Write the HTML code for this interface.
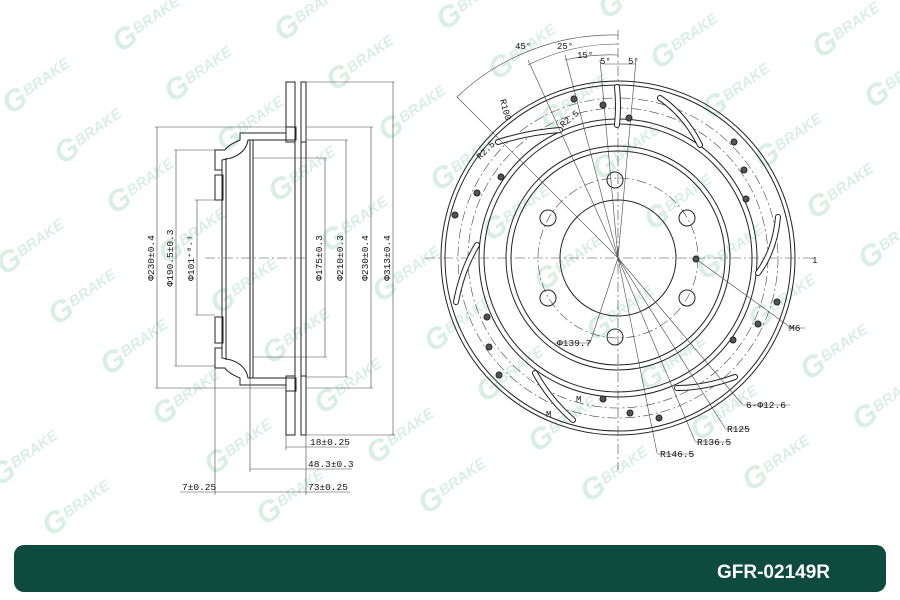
<!DOCTYPE html>
<html><head><meta charset="utf-8"><style>
html,body{margin:0;padding:0;background:#fff}
svg{display:block}
.wm text{font-family:"Liberation Sans",sans-serif;font-weight:bold;font-style:italic;fill:#d9efe6}
.l{stroke:#222;fill:none;stroke-width:1}
.t{stroke:#444;fill:none;stroke-width:.6}
.c{stroke:#444;fill:none;stroke-width:.6;stroke-dasharray:10 3 2 3}
.d{font-family:"Liberation Mono",monospace;font-size:9.5px;fill:#111}
</style></head><body>
<svg width="900" height="600" viewBox="0 0 900 600" xmlns="http://www.w3.org/2000/svg">
<defs>
<pattern id="h" width="5" height="5" patternUnits="userSpaceOnUse" patternTransform="rotate(45)"><line x1="0" y1="0" x2="0" y2="5" stroke="#333" stroke-width=".8"/></pattern>
</defs>
<g class="wm">
<g transform="translate(125,38) rotate(-35)"><text x="-12" y="10" font-size="30">G</text><text x="12" y="4" font-size="15">BRAKE</text></g>
<g transform="translate(177,88) rotate(-35)"><text x="-12" y="10" font-size="30">G</text><text x="12" y="4" font-size="15">BRAKE</text></g>
<g transform="translate(229,138) rotate(-35)"><text x="-12" y="10" font-size="30">G</text><text x="12" y="4" font-size="15">BRAKE</text></g>
<g transform="translate(281,188) rotate(-35)"><text x="-12" y="10" font-size="30">G</text><text x="12" y="4" font-size="15">BRAKE</text></g>
<g transform="translate(333,238) rotate(-35)"><text x="-12" y="10" font-size="30">G</text><text x="12" y="4" font-size="15">BRAKE</text></g>
<g transform="translate(385,288) rotate(-35)"><text x="-12" y="10" font-size="30">G</text><text x="12" y="4" font-size="15">BRAKE</text></g>
<g transform="translate(437,338) rotate(-35)"><text x="-12" y="10" font-size="30">G</text><text x="12" y="4" font-size="15">BRAKE</text></g>
<g transform="translate(489,388) rotate(-35)"><text x="-12" y="10" font-size="30">G</text><text x="12" y="4" font-size="15">BRAKE</text></g>
<g transform="translate(541,438) rotate(-35)"><text x="-12" y="10" font-size="30">G</text><text x="12" y="4" font-size="15">BRAKE</text></g>
<g transform="translate(593,488) rotate(-35)"><text x="-12" y="10" font-size="30">G</text><text x="12" y="4" font-size="15">BRAKE</text></g>
<g transform="translate(287,27) rotate(-35)"><text x="-12" y="10" font-size="30">G</text><text x="12" y="4" font-size="15">BRAKE</text></g>
<g transform="translate(339,77) rotate(-35)"><text x="-12" y="10" font-size="30">G</text><text x="12" y="4" font-size="15">BRAKE</text></g>
<g transform="translate(391,127) rotate(-35)"><text x="-12" y="10" font-size="30">G</text><text x="12" y="4" font-size="15">BRAKE</text></g>
<g transform="translate(443,177) rotate(-35)"><text x="-12" y="10" font-size="30">G</text><text x="12" y="4" font-size="15">BRAKE</text></g>
<g transform="translate(495,227) rotate(-35)"><text x="-12" y="10" font-size="30">G</text><text x="12" y="4" font-size="15">BRAKE</text></g>
<g transform="translate(547,277) rotate(-35)"><text x="-12" y="10" font-size="30">G</text><text x="12" y="4" font-size="15">BRAKE</text></g>
<g transform="translate(599,327) rotate(-35)"><text x="-12" y="10" font-size="30">G</text><text x="12" y="4" font-size="15">BRAKE</text></g>
<g transform="translate(651,377) rotate(-35)"><text x="-12" y="10" font-size="30">G</text><text x="12" y="4" font-size="15">BRAKE</text></g>
<g transform="translate(703,427) rotate(-35)"><text x="-12" y="10" font-size="30">G</text><text x="12" y="4" font-size="15">BRAKE</text></g>
<g transform="translate(755,477) rotate(-35)"><text x="-12" y="10" font-size="30">G</text><text x="12" y="4" font-size="15">BRAKE</text></g>
<g transform="translate(449,16) rotate(-35)"><text x="-12" y="10" font-size="30">G</text><text x="12" y="4" font-size="15">BRAKE</text></g>
<g transform="translate(501,66) rotate(-35)"><text x="-12" y="10" font-size="30">G</text><text x="12" y="4" font-size="15">BRAKE</text></g>
<g transform="translate(553,116) rotate(-35)"><text x="-12" y="10" font-size="30">G</text><text x="12" y="4" font-size="15">BRAKE</text></g>
<g transform="translate(605,166) rotate(-35)"><text x="-12" y="10" font-size="30">G</text><text x="12" y="4" font-size="15">BRAKE</text></g>
<g transform="translate(657,216) rotate(-35)"><text x="-12" y="10" font-size="30">G</text><text x="12" y="4" font-size="15">BRAKE</text></g>
<g transform="translate(709,266) rotate(-35)"><text x="-12" y="10" font-size="30">G</text><text x="12" y="4" font-size="15">BRAKE</text></g>
<g transform="translate(761,316) rotate(-35)"><text x="-12" y="10" font-size="30">G</text><text x="12" y="4" font-size="15">BRAKE</text></g>
<g transform="translate(813,366) rotate(-35)"><text x="-12" y="10" font-size="30">G</text><text x="12" y="4" font-size="15">BRAKE</text></g>
<g transform="translate(865,416) rotate(-35)"><text x="-12" y="10" font-size="30">G</text><text x="12" y="4" font-size="15">BRAKE</text></g>
<g transform="translate(611,5) rotate(-35)"><text x="-12" y="10" font-size="30">G</text><text x="12" y="4" font-size="15">BRAKE</text></g>
<g transform="translate(663,55) rotate(-35)"><text x="-12" y="10" font-size="30">G</text><text x="12" y="4" font-size="15">BRAKE</text></g>
<g transform="translate(715,105) rotate(-35)"><text x="-12" y="10" font-size="30">G</text><text x="12" y="4" font-size="15">BRAKE</text></g>
<g transform="translate(767,155) rotate(-35)"><text x="-12" y="10" font-size="30">G</text><text x="12" y="4" font-size="15">BRAKE</text></g>
<g transform="translate(819,205) rotate(-35)"><text x="-12" y="10" font-size="30">G</text><text x="12" y="4" font-size="15">BRAKE</text></g>
<g transform="translate(871,255) rotate(-35)"><text x="-12" y="10" font-size="30">G</text><text x="12" y="4" font-size="15">BRAKE</text></g>
<g transform="translate(825,44) rotate(-35)"><text x="-12" y="10" font-size="30">G</text><text x="12" y="4" font-size="15">BRAKE</text></g>
<g transform="translate(877,94) rotate(-35)"><text x="-12" y="10" font-size="30">G</text><text x="12" y="4" font-size="15">BRAKE</text></g>
<g transform="translate(15,100) rotate(-35)"><text x="-12" y="10" font-size="30">G</text><text x="12" y="4" font-size="15">BRAKE</text></g>
<g transform="translate(67,150) rotate(-35)"><text x="-12" y="10" font-size="30">G</text><text x="12" y="4" font-size="15">BRAKE</text></g>
<g transform="translate(119,200) rotate(-35)"><text x="-12" y="10" font-size="30">G</text><text x="12" y="4" font-size="15">BRAKE</text></g>
<g transform="translate(171,250) rotate(-35)"><text x="-12" y="10" font-size="30">G</text><text x="12" y="4" font-size="15">BRAKE</text></g>
<g transform="translate(223,300) rotate(-35)"><text x="-12" y="10" font-size="30">G</text><text x="12" y="4" font-size="15">BRAKE</text></g>
<g transform="translate(275,350) rotate(-35)"><text x="-12" y="10" font-size="30">G</text><text x="12" y="4" font-size="15">BRAKE</text></g>
<g transform="translate(327,400) rotate(-35)"><text x="-12" y="10" font-size="30">G</text><text x="12" y="4" font-size="15">BRAKE</text></g>
<g transform="translate(379,450) rotate(-35)"><text x="-12" y="10" font-size="30">G</text><text x="12" y="4" font-size="15">BRAKE</text></g>
<g transform="translate(431,500) rotate(-35)"><text x="-12" y="10" font-size="30">G</text><text x="12" y="4" font-size="15">BRAKE</text></g>
<g transform="translate(9,261) rotate(-35)"><text x="-12" y="10" font-size="30">G</text><text x="12" y="4" font-size="15">BRAKE</text></g>
<g transform="translate(61,311) rotate(-35)"><text x="-12" y="10" font-size="30">G</text><text x="12" y="4" font-size="15">BRAKE</text></g>
<g transform="translate(113,361) rotate(-35)"><text x="-12" y="10" font-size="30">G</text><text x="12" y="4" font-size="15">BRAKE</text></g>
<g transform="translate(165,411) rotate(-35)"><text x="-12" y="10" font-size="30">G</text><text x="12" y="4" font-size="15">BRAKE</text></g>
<g transform="translate(217,461) rotate(-35)"><text x="-12" y="10" font-size="30">G</text><text x="12" y="4" font-size="15">BRAKE</text></g>
<g transform="translate(269,511) rotate(-35)"><text x="-12" y="10" font-size="30">G</text><text x="12" y="4" font-size="15">BRAKE</text></g>
<g transform="translate(3,472) rotate(-35)"><text x="-12" y="10" font-size="30">G</text><text x="12" y="4" font-size="15">BRAKE</text></g>
<g transform="translate(55,522) rotate(-35)"><text x="-12" y="10" font-size="30">G</text><text x="12" y="4" font-size="15">BRAKE</text></g>
</g>

<!-- SIDE VIEW -->
<g>
<!-- disc plates -->
<rect x="286" y="82" width="9" height="60" fill="url(#h)" class="l"/>
<rect x="301" y="82" width="5" height="60" fill="url(#h)" class="l"/>
<rect x="286" y="376" width="9" height="59" fill="url(#h)" class="l"/>
<rect x="301" y="376" width="5" height="59" fill="url(#h)" class="l"/>
<line class="l" x1="295" y1="142" x2="295" y2="376"/><line class="l" x1="301" y1="142" x2="301" y2="376"/>
<line class="l" x1="306" y1="142" x2="306" y2="376"/>
<!-- hat top -->
<path class="l" fill="url(#h)" d="M286 127 L286 133 L240 133 L240 140 Q228 145 225 150 L215 150 L215 170 L222 170 L222 160 L231 158 Q246 153 248 140 L296 140 L296 127 Z"/>
<path class="l" fill="url(#h)" d="M286 391 L286 385 L240 385 L240 378 Q228 373 225 368 L215 368 L215 348 L222 348 L222 358 L231 360 Q246 365 248 378 L296 378 L296 391 Z"/>
<rect class="l" fill="url(#h)" x="215" y="175" width="8" height="25"/>
<rect class="l" fill="url(#h)" x="215" y="317" width="8" height="26"/>
<line class="l" x1="222" y1="160" x2="222" y2="358"/>
<line class="l" x1="226" y1="158" x2="226" y2="360"/>
<line class="l" x1="250" y1="140" x2="250" y2="378"/>
<line class="l" x1="253" y1="140" x2="253" y2="378"/>
<line class="c" x1="205" y1="258" x2="305" y2="258"/>
<!-- dimension lines -->
<g class="t">
<line x1="157" y1="127" x2="157" y2="388"/><line x1="155" y1="127" x2="286" y2="127"/><line x1="155" y1="388" x2="286" y2="388"/>
<line x1="176" y1="150" x2="176" y2="366"/><line x1="174" y1="150" x2="215" y2="150"/><line x1="174" y1="366" x2="215" y2="366"/>
<line x1="197" y1="200" x2="197" y2="315"/><line x1="195" y1="200" x2="215" y2="200"/><line x1="195" y1="315" x2="215" y2="315"/>
<line x1="325" y1="158" x2="325" y2="357"/><line x1="253" y1="158" x2="327" y2="158"/><line x1="253" y1="357" x2="327" y2="357"/>
<line x1="346" y1="140" x2="346" y2="377"/><line x1="306" y1="140" x2="348" y2="140"/><line x1="306" y1="377" x2="348" y2="377"/>
<line x1="371" y1="127" x2="371" y2="388"/><line x1="306" y1="127" x2="373" y2="127"/><line x1="306" y1="388" x2="373" y2="388"/>
<line x1="393" y1="82" x2="393" y2="435"/><line x1="306" y1="82" x2="395" y2="82"/><line x1="306" y1="435" x2="395" y2="435"/>
<line x1="286" y1="435" x2="286" y2="450"/><line x1="306" y1="435" x2="306" y2="495"/>
<line x1="250" y1="378" x2="250" y2="472"/><line x1="215" y1="368" x2="215" y2="495"/>
<line x1="286" y1="447" x2="348" y2="447"/>
<line x1="250" y1="469" x2="352" y2="469"/>
<line x1="180" y1="492" x2="215" y2="492"/><line x1="215" y1="492" x2="306" y2="492"/><line x1="306" y1="492" x2="350" y2="492"/>
</g>
<g class="d">
<text transform="translate(154,258) rotate(-90)" text-anchor="middle">Φ230±0.4</text>
<text transform="translate(173,258) rotate(-90)" text-anchor="middle">Φ190.5±0.3</text>
<text transform="translate(194,258) rotate(-90)" text-anchor="middle">Φ101⁺⁰·³</text>
<text transform="translate(322,258) rotate(-90)" text-anchor="middle">Φ175±0.3</text>
<text transform="translate(343,258) rotate(-90)" text-anchor="middle">Φ210±0.3</text>
<text transform="translate(368,258) rotate(-90)" text-anchor="middle">Φ230±0.4</text>
<text transform="translate(390,258) rotate(-90)" text-anchor="middle">Φ313±0.4</text>
<text x="310" y="445">18±0.25</text>
<text x="308" y="467">48.3±0.3</text>
<text x="182" y="490">7±0.25</text>
<text x="308" y="490">73±0.25</text>
</g>
</g>

<!-- FRONT VIEW -->
<g>
<circle class="l" cx="618" cy="258" r="177"/>
<circle class="l" cx="618" cy="258" r="173"/>
<circle class="c" cx="618" cy="258" r="160"/>
<circle class="c" cx="618" cy="258" r="150"/>
<circle class="l" cx="618" cy="258" r="139"/>
<circle class="l" cx="618" cy="258" r="134"/>
<circle class="l" cx="618" cy="258" r="112"/>
<circle class="l" cx="618" cy="258" r="107"/>
<circle class="c" cx="618" cy="258" r="80"/>
<circle class="l" cx="618" cy="258" r="58"/>
<line class="c" x1="425" y1="258" x2="815" y2="258"/>
<line class="c" x1="618" y1="30" x2="618" y2="470"/>
<g class="l">
<circle cx="615" cy="180" r="8"/><circle cx="548" cy="218" r="8"/><circle cx="687" cy="218" r="8"/>
<circle cx="548" cy="298" r="8"/><circle cx="687" cy="298" r="8"/><circle cx="615" cy="337" r="8"/>
</g>
<g stroke="#222" stroke-width="1" fill="#555">
<circle cx="574" cy="99" r="3"/><circle cx="603" cy="105" r="3"/><circle cx="629" cy="118" r="3"/>
<circle cx="734" cy="142" r="3"/><circle cx="744" cy="170" r="3"/><circle cx="746" cy="199" r="3"/>
<circle cx="696" cy="259" r="3"/><circle cx="777" cy="302" r="3"/><circle cx="758" cy="324" r="3"/>
<circle cx="733" cy="340" r="3"/><circle cx="659" cy="418" r="3"/><circle cx="630" cy="413" r="3"/>
<circle cx="603" cy="399" r="3"/><circle cx="499" cy="375" r="3"/><circle cx="489" cy="347" r="3"/>
<circle cx="487" cy="317" r="3"/><circle cx="455" cy="215" r="3"/><circle cx="477" cy="193" r="3"/>
<circle cx="501" cy="177" r="3"/>
</g>
<g stroke="#222" stroke-width="6" stroke-linecap="round" fill="none">
<path d="M617 87 Q619 106 617 125"/><path d="M660 98 Q685 115 700 145"/><path d="M778 217 Q775 250 758 273"/>
<path d="M735 377 Q705 388 677 388"/><path d="M535 373 Q550 400 573 420"/><path d="M477 245 Q462 270 456 302"/>
<path d="M498 142 Q530 132 560 130"/>
</g>
<g stroke="#fff" stroke-width="4" stroke-linecap="round" fill="none">
<path d="M617 87 Q619 106 617 125"/><path d="M660 98 Q685 115 700 145"/><path d="M778 217 Q775 250 758 273"/>
<path d="M735 377 Q705 388 677 388"/><path d="M535 373 Q550 400 573 420"/><path d="M477 245 Q462 270 456 302"/>
<path d="M498 142 Q530 132 560 130"/>
</g>
<!-- leader lines -->
<g class="t">
<line x1="618" y1="258" x2="528" y2="60"/><line x1="618" y1="258" x2="565" y2="55"/>
<line x1="618" y1="258" x2="600" y2="60"/><line x1="618" y1="258" x2="636" y2="60"/>
<line x1="618" y1="258" x2="457" y2="97"/>
<path d="M457 97 A225 225 0 0 1 618 35"/><path d="M528 65 A200 200 0 0 1 618 44"/>
<path d="M565 60 A195 195 0 0 1 618 55"/><path d="M603 64 L636 64"/>
<line x1="618" y1="258" x2="590" y2="343"/><line x1="555" y1="343" x2="590" y2="343"/>
<line x1="696" y1="259" x2="790" y2="327"/><line x1="788" y1="328" x2="805" y2="328"/>
<line x1="618" y1="258" x2="742" y2="404"/><line x1="742" y1="405" x2="790" y2="405"/>
<line x1="618" y1="258" x2="725" y2="428"/><line x1="725" y1="429" x2="750" y2="429"/>
<line x1="618" y1="258" x2="695" y2="441"/><line x1="695" y1="442" x2="730" y2="442"/>
<line x1="618" y1="258" x2="657" y2="453"/><line x1="657" y1="454" x2="694" y2="454"/>
</g>
<g class="d">
<text x="515" y="49" font-size="9">45°</text>
<text x="557" y="49" font-size="9">25°</text>
<text x="577" y="58" font-size="9">15°</text>
<text x="600" y="64" font-size="9">5°</text>
<text x="628" y="64" font-size="9">5°</text>
<text transform="translate(500,100) rotate(75)" font-size="9">R100</text>
<text transform="translate(563,128) rotate(-40)" font-size="9">R2.5</text>
<text transform="translate(480,160) rotate(-45)" font-size="9">R2.5</text>
<text x="557" y="346">Φ139.7</text>
<text x="789" y="331">M6</text>
<text x="746" y="408">6-Φ12.6</text>
<text x="727" y="432">R125</text>
<text x="697" y="445">R136.5</text>
<text x="660" y="457">R146.5</text>
<text x="576" y="402" font-size="9">M</text>
<text x="546" y="417" font-size="9">M</text>
<text x="812" y="263" font-size="9">1</text>
</g>
</g>

<!-- bottom bar -->
<rect x="14" y="545" width="872" height="47" rx="10" fill="#0e4a3e"/>
<text x="830" y="578" text-anchor="end" font-family="Liberation Sans,sans-serif" font-weight="bold" font-size="19" fill="#fff">GFR-02149R</text>
</svg>
</body></html>
